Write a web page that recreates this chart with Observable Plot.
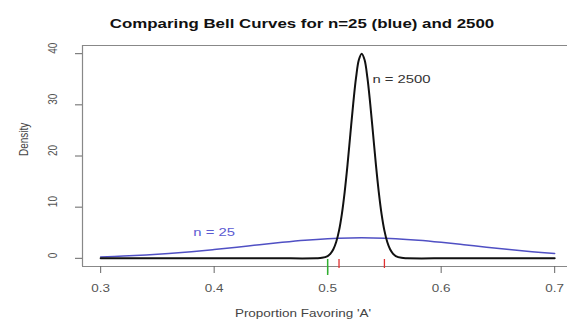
<!DOCTYPE html>
<html>
<head>
<meta charset="utf-8">
<script src="https://cdn.jsdelivr.net/npm/d3@7"></script>
<script src="https://cdn.jsdelivr.net/npm/@observablehq/plot@0.6"></script>
<style>
  html, body { margin: 0; padding: 0; background: #fff; }
  svg { display: block; }
</style>
</head>
<body>
<div id="chart"></div>
<script>
// Curve for n = 2500 (black)
const n2500X = [0.30, 0.45, 0.49, 0.495, 0.50, 0.5025, 0.505, 0.5075, 0.51, 0.5125, 0.515, 0.5175, 0.52, 0.5225, 0.525, 0.5275, 0.53,
                0.5325, 0.535, 0.5375, 0.54, 0.5425, 0.545, 0.5475, 0.55, 0.5525, 0.555, 0.5575, 0.56, 0.565, 0.57, 0.61, 0.70];
const n2500Y = [0, 0, 0.01, 0.09, 0.44, 0.91, 1.76, 3.18, 5.41, 8.65, 13.0, 18.3, 24.3, 30.2, 35.3, 38.8, 40.0,
                38.8, 35.3, 30.2, 24.3, 18.3, 13.0, 8.65, 5.41, 3.18, 1.76, 0.91, 0.44, 0.09, 0.01, 0, 0];
// Curve for n = 25 (blue)
const n25X = [0.30, 0.32, 0.34, 0.36, 0.38, 0.40, 0.42, 0.44, 0.46, 0.48, 0.50, 0.52, 0.53, 0.54, 0.56, 0.58, 0.60, 0.62, 0.64, 0.66, 0.68, 0.70];
const n25Y = [0.28, 0.44, 0.66, 0.94, 1.30, 1.72, 2.18, 2.67, 3.13, 3.53, 3.82, 3.98, 4.00, 3.98, 3.82, 3.53, 3.13, 2.67, 2.18, 1.72, 1.30, 0.94];
// Rug marks
const greenRug = [0.50];
const redRug = [0.51, 0.55];
// Ticks
const xTicks = [0.3, 0.4, 0.5, 0.6, 0.7];
const xTickLabels = ["0.3", "0.4", "0.5", "0.6", "0.7"];
const yTicks = [0, 10, 20, 30, 40];
const yTickLabels = ["0", "10", "20", "30", "40"];
// Annotations
const labels = [
  {x: 0.565, y: 35, text: "n = 2500", color: "#333333"},
  {x: 0.40, y: 5, text: "n = 25", color: "#5b5bd2"}
];
const title = "Comparing Bell Curves for n=25 (blue) and 2500";
const xLabel = "Proportion Favoring 'A'";
const yLabel = "Density";

const black = n2500X.map((x, i) => ({x, y: n2500Y[i]}));
const blue = n25X.map((x, i) => ({x, y: n25Y[i]}));
const xDomain = [0.284, 0.7113];
const yDomain = [-1.6, 41.6];

const font = "'Liberation Sans', Arial, Helvetica, sans-serif";

const chart = Plot.plot({
  width: 567,
  height: 322,
  marginLeft: 82,
  marginRight: 0,
  marginTop: 45,
  marginBottom: 56,
  style: {fontFamily: font, fontSize: "10px", color: "#444", background: "#fff", overflow: "visible"},
  x: {domain: xDomain},
  y: {domain: yDomain},
  marks: [
    // box (left, top, bottom; right side out of view)
    Plot.ruleY([yDomain[1]], {stroke: "#888", strokeWidth: 1.2}),
    Plot.ruleY([yDomain[0]], {stroke: "#888", strokeWidth: 1.2}),
    Plot.ruleX([xDomain[0]], {stroke: "#888", strokeWidth: 1.2}),
    // axes
    Plot.axisX(xTicks, {tickSize: 7, tickPadding: 11, tickFormat: (d, i) => xTickLabels[i], stroke: "#666", fill: "#555", fontSize: 10, label: null}),
    Plot.axisY(yTicks, {tickSize: 7, tickFormat: () => "", stroke: "#666", label: null}),
    Plot.text(yTicks, {y: d => d, text: (d, i) => yTickLabels[i], frameAnchor: "left", dx: -30, rotate: -90, fill: "#555", fontSize: 10}),
    // curves
    Plot.line(blue, {x: "x", y: "y", stroke: "#5050c4", strokeWidth: 1.5, curve: "catmull-rom"}),
    Plot.line(black, {x: "x", y: "y", stroke: "#111", strokeWidth: 2, curve: "catmull-rom"}),
    // rugs
    Plot.ruleX(redRug, {x: d => d, stroke: "#e03030", strokeWidth: 1.3, insetTop: 214, insetBottom: -2}),
    Plot.ruleX(greenRug, {x: d => d, stroke: "#30b030", strokeWidth: 1.5, insetTop: 214, insetBottom: -9}),
    // annotations
    Plot.text(labels, {x: "x", y: "y", text: "text", fill: "color", fontSize: 11}),
    // titles
    Plot.text([title], {frameAnchor: "top", dx: -23, dy: -26, fontWeight: "bold", fontSize: 12.5, fill: "#111"}),
    Plot.text([xLabel], {frameAnchor: "bottom", dx: -22, dy: 50, fill: "#444", fontSize: 10}),
    Plot.text([yLabel], {frameAnchor: "left", dx: -59, rotate: -90, fill: "#444", fontSize: 10})
  ]
});

// The reference picture is stretched horizontally: widen the glyphs the same way
const STRETCH = 1.35;
d3.select(chart).selectAll("text").each(function () {
  const t = this.getAttribute("transform");
  if (t && /translate\([^)]*\)/.test(t)) {
    this.setAttribute("transform", t.replace(/(translate\([^)]*\))/, `$1 scale(${STRETCH},1)`));
  } else {
    const x = +(this.getAttribute("x") || 0);
    const y = +(this.getAttribute("y") || 0);
    this.removeAttribute("x");
    this.removeAttribute("y");
    this.setAttribute("transform", `translate(${x},${y}) scale(${STRETCH},1)` + (t ? " " + t : ""));
  }
});
document.getElementById("chart").appendChild(chart);
</script>
</body>
</html>
